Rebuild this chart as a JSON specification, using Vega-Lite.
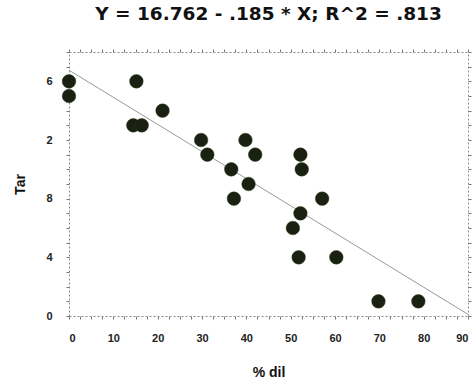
{
  "$schema": "https://vega.github.io/schema/vega-lite/v6.json",
  "autosize": "none",
  "width": 399,
  "height": 264,
  "padding": {"left": 69, "top": 52, "right": 5, "bottom": 69},
  "background": "white",
  "title": {
    "text": "Y = 16.762 - .185 * X; R^2 = .813",
    "font": "DejaVu Sans",
    "fontSize": 18.5,
    "fontWeight": "bold",
    "color": "#111",
    "anchor": "middle",
    "offset": 25
  },
  "config": {
    "view": {"stroke": null},
    "axis": {
      "labelFont": "Liberation Sans",
      "labelFontSize": 11,
      "labelFontWeight": "bold",
      "labelColor": "#222",
      "titleFont": "Liberation Sans",
      "titleFontSize": 14,
      "titleFontWeight": "bold",
      "titleColor": "#111",
      "domainColor": "#888",
      "domainDash": [2, 2],
      "tickColor": "#777",
      "grid": false
    }
  },
  "datasets": {
    "pts": [
      {"dil": 0, "Tar": 16},
      {"dil": 0, "Tar": 15},
      {"dil": 15.2, "Tar": 16},
      {"dil": 14.5, "Tar": 13},
      {"dil": 16.4, "Tar": 13},
      {"dil": 21.1, "Tar": 14},
      {"dil": 29.8, "Tar": 12},
      {"dil": 31.2, "Tar": 11},
      {"dil": 36.6, "Tar": 10},
      {"dil": 37.2, "Tar": 8},
      {"dil": 39.8, "Tar": 12},
      {"dil": 40.5, "Tar": 9},
      {"dil": 42, "Tar": 11},
      {"dil": 50.5, "Tar": 6},
      {"dil": 51.8, "Tar": 4},
      {"dil": 52.2, "Tar": 11},
      {"dil": 52.5, "Tar": 10},
      {"dil": 52.2, "Tar": 7},
      {"dil": 57.1, "Tar": 8},
      {"dil": 60.3, "Tar": 4},
      {"dil": 69.8, "Tar": 1},
      {"dil": 78.8, "Tar": 1}
    ],
    "fit": [
      {"dil": 0, "Tar": 16.762},
      {"dil": 90, "Tar": 0.112}
    ]
  },
  "layer": [
    {
      "data": {"name": "fit"},
      "mark": {"type": "line", "color": "#999", "strokeWidth": 1},
      "encoding": {
        "x": {
          "field": "dil", "type": "quantitative",
          "scale": {"domain": [0, 90], "nice": false},
          "axis": {
            "orient": "top", "title": null, "labels": false,
            "values": [0,2.5,5,7.5,10,12.5,15,17.5,20,22.5,25,27.5,30,32.5,35,37.5,40,42.5,45,47.5,50,52.5,55,57.5,60,62.5,65,67.5,70,72.5,75,77.5,80,82.5,85,87.5,90],
            "tickSize": 3, "offset": 0
          }
        },
        "y": {
          "field": "Tar", "type": "quantitative",
          "scale": {"domain": [0, 18], "nice": false},
          "axis": {
            "orient": "right", "title": null, "labels": false,
            "values": [0,1,2,3,4,5,6,7,8,9,10,11,12,13,14,15,16,17,18],
            "tickSize": 3
          }
        }
      }
    },
    {
      "data": {"name": "pts"},
      "mark": {"type": "circle", "size": 185, "opacity": 1, "fill": "#1a2112", "stroke": "#2a3a10", "strokeWidth": 0.5},
      "encoding": {
        "x": {
          "field": "dil", "type": "quantitative",
          "scale": {"domain": [0, 90], "nice": false},
          "axis": {
            "orient": "bottom", "title": "% dil",
            "values": [0,2.5,5,7.5,10,12.5,15,17.5,20,22.5,25,27.5,30,32.5,35,37.5,40,42.5,45,47.5,50,52.5,55,57.5,60,62.5,65,67.5,70,72.5,75,77.5,80,82.5,85,87.5,90],
            "labelExpr": "datum.value % 10 == 0 ? datum.label : ''",
            "tickSize": 3, "labelPadding": 13, "titlePadding": 22
          }
        },
        "y": {
          "field": "Tar", "type": "quantitative",
          "scale": {"domain": [0, 18], "nice": false},
          "axis": {
            "orient": "left", "title": "Tar",
            "values": [0,1,2,3,4,5,6,7,8,9,10,11,12,13,14,15,16,17,18],
            "labelExpr": "datum.value % 4 == 0 ? slice(datum.label, -1) : ''",
            "tickSize": 3, "labelPadding": 14, "titlePadding": 18
          }
        }
      }
    }
  ],
  "resolve": {"axis": {"x": "independent", "y": "independent"}}
}
